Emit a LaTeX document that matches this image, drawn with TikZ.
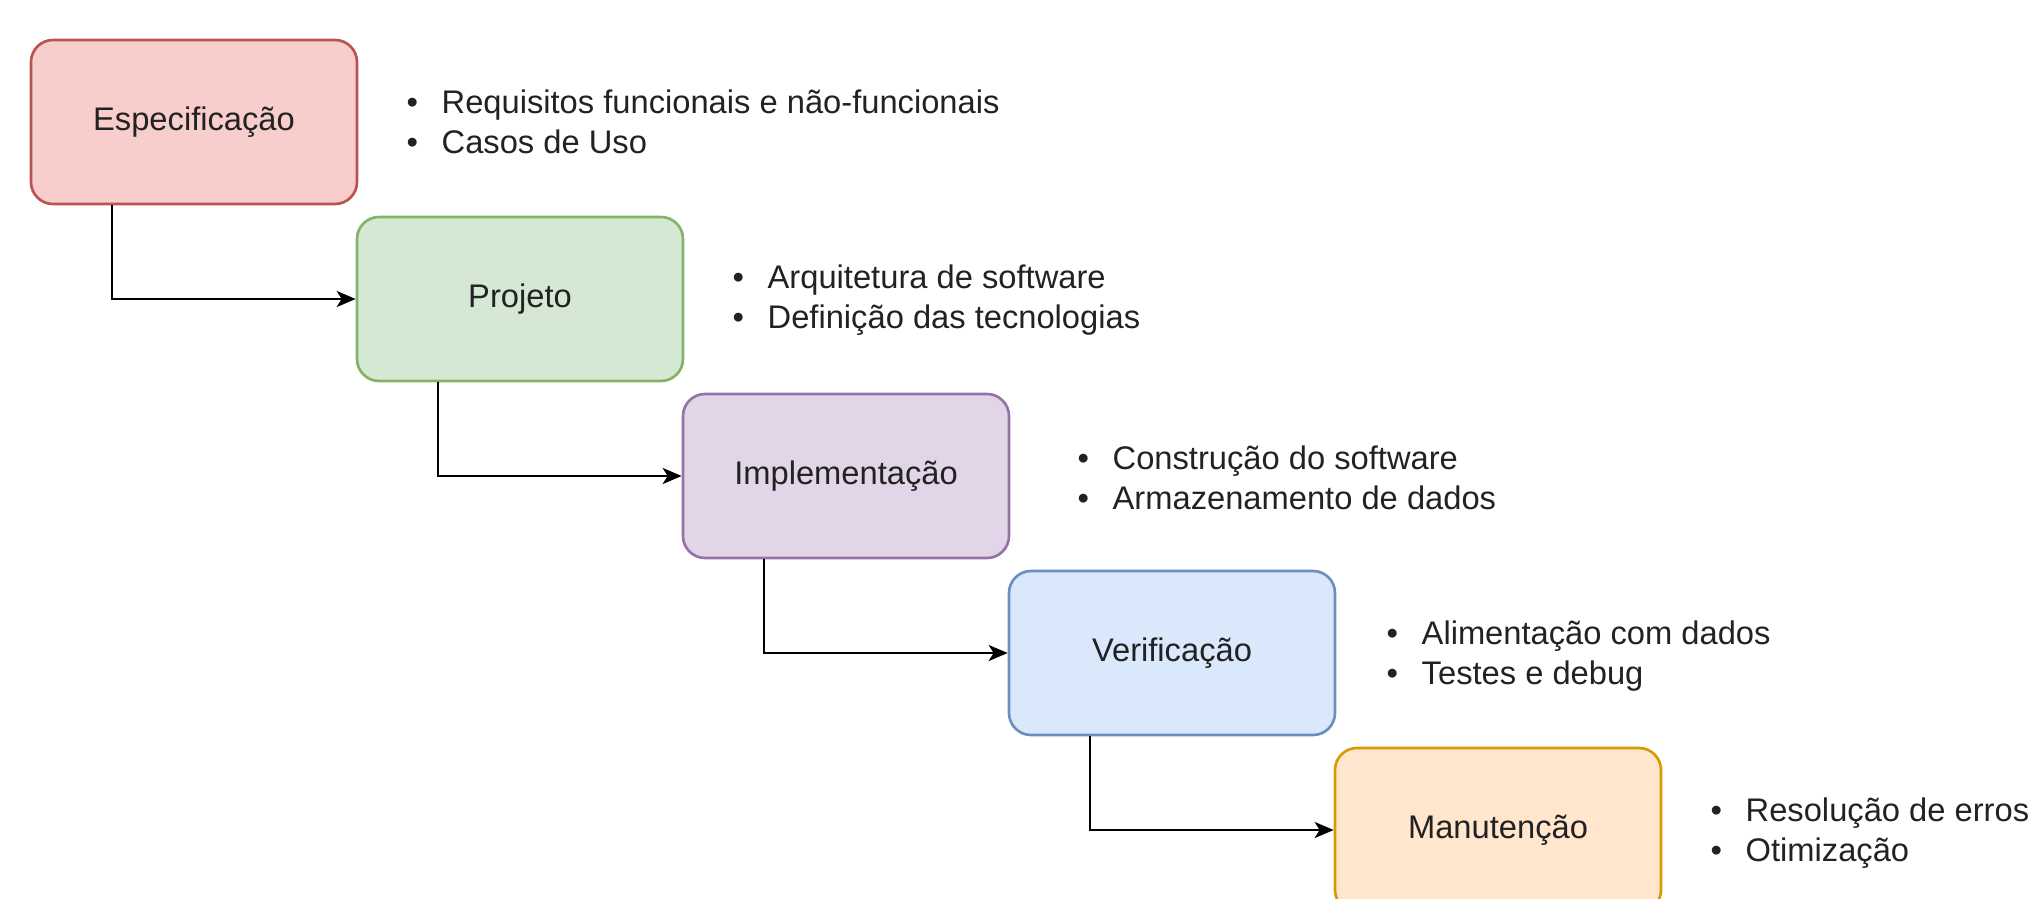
\documentclass[tikz,border=0pt]{standalone}
\usepackage{fontspec}
\setmainfont{Liberation Sans}
\usetikzlibrary{arrows.meta,calc}

\definecolor{redfill}{HTML}{F8CECC}\definecolor{redline}{HTML}{B85450}
\definecolor{greenfill}{HTML}{D5E8D4}\definecolor{greenline}{HTML}{82B366}
\definecolor{purplefill}{HTML}{E1D5E7}\definecolor{purpleline}{HTML}{9673A6}
\definecolor{bluefill}{HTML}{DAE8FC}\definecolor{blueline}{HTML}{6C8EBF}
\definecolor{orangefill}{HTML}{FFE6CC}\definecolor{orangeline}{HTML}{D79B00}
\definecolor{txt}{HTML}{222222}

\newcommand{\itm}[1]{\makebox[0.35cm][l]{\textbullet}#1}

\tikzset{
    phase/.style={draw, line width=0.75pt, rounded corners=0.22cm, minimum width=3.26cm, minimum height=1.64cm, inner sep=0pt, text=txt, font=\fontsize{9.3}{11}\selectfont},
    notes/.style={anchor=west, align=left, inner sep=0pt, text=txt, font=\fontsize{9.3}{11.4}\selectfont},
    flow/.style={draw=black, line width=0.75pt, -{Stealth[length=0.19cm,width=0.16cm,inset=0.05cm]}}
}

\begin{document}
\begin{tikzpicture}
        \useasboundingbox (0,0) rectangle (20.33,-8.98);
        \clip (0,0) rectangle (20.33,-8.98);
        % fases
        \node[phase, fill=redfill, draw=redline](esp) at (1.94,-1.22){Especificação};
        \node[phase, fill=greenfill, draw=greenline](proj) at (5.20,-2.99){Projeto};
        \node[phase, fill=purplefill, draw=purpleline](impl) at (8.46,-4.76){Implementação};
        \node[phase, fill=bluefill, draw=blueline](verif) at (11.72,-6.53){Verificação};
        \node[phase, fill=orangefill, draw=orangeline](manut) at (14.98,-8.30){Manutenção};
        % listas
        \node[notes](lesp) at (4.06,-1.22){\itm{Requisitos funcionais e não-funcionais}\\\itm{Casos de Uso}};
        \node[notes](lproj) at (7.32,-3.00){\itm{Arquitetura de software}\\\itm{Definição das tecnologias}};
        \node[notes](limpl) at (10.77,-4.78){\itm{Construção do software}\\\itm{Armazenamento de dados}};
        \node[notes](lverif) at (13.86,-6.56){\itm{Alimentação com dados}\\\itm{Testes e debug}};
        \node[notes](lmanut) at (17.10,-8.33){\itm{Resolução de erros}\\\itm{Otimização}};
        % setas
        \draw[flow]($(esp.south west)!0.25!(esp.south east)$) |- (proj.west);
        \draw[flow]($(proj.south west)!0.25!(proj.south east)$) |- (impl.west);
        \draw[flow]($(impl.south west)!0.25!(impl.south east)$) |- (verif.west);
        \draw[flow]($(verif.south west)!0.25!(verif.south east)$) |- (manut.west);
    \end{tikzpicture}
\end{document}
